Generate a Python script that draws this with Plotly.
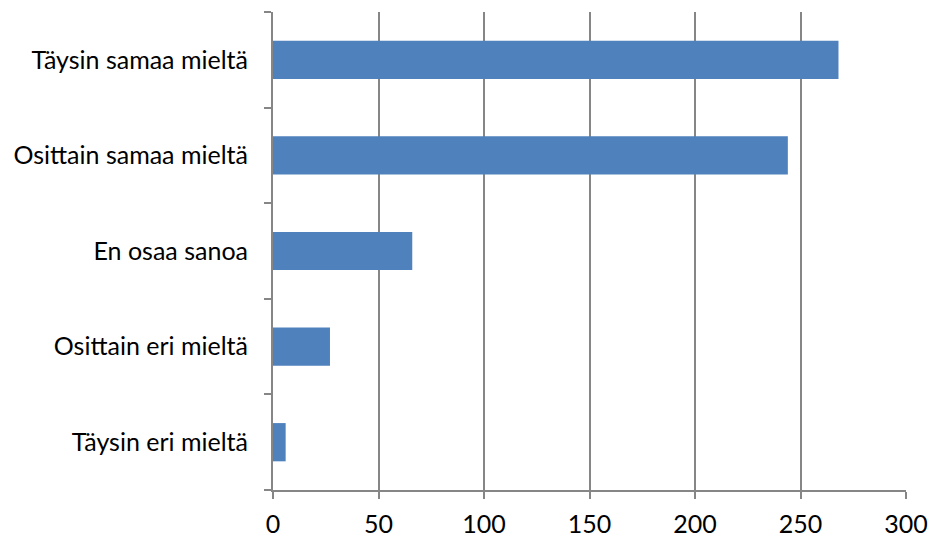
import plotly.graph_objects as go

# Responses, listed top to bottom
categories = [
    "Täysin samaa mieltä",
    "Osittain samaa mieltä",
    "En osaa sanoa",
    "Osittain eri mieltä",
    "Täysin eri mieltä",
]
counts = [268, 244, 66, 27, 6]
x_ticks = [0, 50, 100, 150, 200, 250, 300]

grey = "#868686"
font = dict(family="Lato, Open Sans, sans-serif", size=25, color="#000000")

fig = go.Figure(
    go.Bar(
        x=counts,
        y=categories,
        orientation="h",
        marker=dict(color="#4F81BD", line=dict(width=0)),
        width=0.4,
    )
)

fig.update_layout(
    width=931,
    height=541,
    margin=dict(l=273, r=25, t=12, b=51),
    paper_bgcolor="white",
    plot_bgcolor="white",
    showlegend=False,
    font=font,
)

fig.update_xaxes(
    automargin=False,
    range=[0, 300],
    tickvals=x_ticks,
    showgrid=True,
    gridcolor=grey,
    gridwidth=1.5,
    showline=True,
    linecolor=grey,
    linewidth=2,
    ticks="outside",
    ticklen=7,
    tickcolor=grey,
    tickwidth=1.5,
    zeroline=False,
    tickfont=font,
    ticklabelstandoff=4,
)

fig.update_yaxes(
    automargin=False,
    categoryorder="array",
    categoryarray=categories[::-1],
    showgrid=False,
    showline=True,
    linecolor=grey,
    linewidth=2,
    ticks="outside",
    tickson="boundaries",
    ticklen=7,
    tickcolor=grey,
    tickwidth=1.5,
    tickfont=font,
    ticklabelstandoff=18,
)

fig.write_html("out.html")
